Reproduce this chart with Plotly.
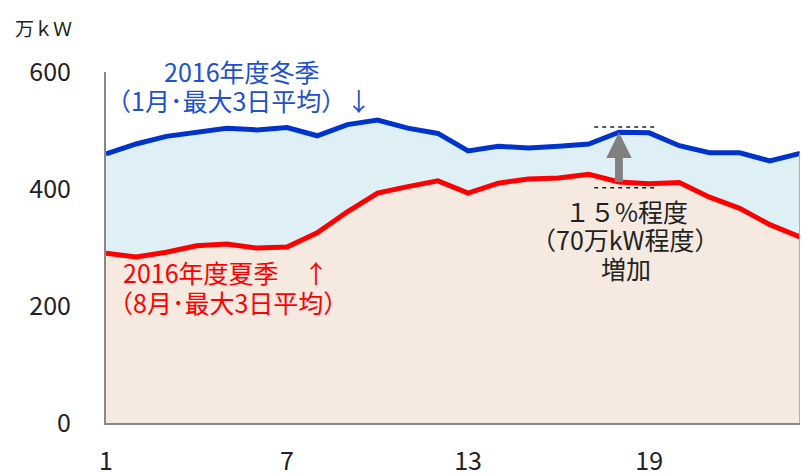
import plotly.graph_objects as go

hours = list(range(1, 25))
winter = [460, 477, 490, 498, 504, 501, 505, 491, 510, 518, 504, 495,
          465, 473, 470, 473, 477, 497, 496, 474, 462, 462, 448, 461]
summer = [290, 284, 292, 303, 306, 299, 301, 325, 361, 393, 404, 414,
          393, 410, 417, 419, 425, 412, 409, 411, 386, 367, 339, 318]
x_ticks = [1, 7, 13, 19]
y_ticks = [0, 200, 400, 600]

FONT = "Noto Sans CJK JP, Noto Sans, sans-serif"
BLUE_LINE = "#0033cc"
BLUE_TEXT = "#2050d0"
RED = "#ff0000"

W, H = 804, 473
ML, MR, MT, MB = 106, 4, 72, 50
PW, PH = W - ML - MR, H - MT - MB


def px(xp, yp):
    """pixel position -> paper coords"""
    return (xp - ML) / PW, (H - MB - yp) / PH


fig = go.Figure()
fig.add_trace(go.Scatter(x=hours, y=winter, mode="lines",
                         line=dict(color=BLUE_LINE, width=5),
                         fill="tozeroy", fillcolor="#dfeff6",
                         hoverinfo="skip", showlegend=False))
fig.add_trace(go.Scatter(x=hours, y=summer, mode="lines",
                         line=dict(color=RED, width=5),
                         fill="tozeroy", fillcolor="#f6eae0",
                         hoverinfo="skip", showlegend=False))

# arrow at hour 18 from summer to winter value
ax = 18
i = hours.index(ax)
top = winter[i]
bot = summer[i]
hw = 0.42   # head half width (hours)
hh = 44     # head height (value units)
sw = 0.13   # shaft half width
arrow_path = (f"M {ax-sw},{bot} L {ax-sw},{top-hh} L {ax-hw},{top-hh} "
              f"L {ax},{top} L {ax+hw},{top-hh} L {ax+sw},{top-hh} L {ax+sw},{bot} Z")
shapes = [
    dict(type="path", path=arrow_path, xref="x", yref="y",
         fillcolor="#808080", line=dict(width=0)),
    dict(type="line", xref="x", yref="y", x0=ax-0.82, x1=ax+1.27, y0=top+9, y1=top+9,
         line=dict(color="#222", width=1.5, dash="4px,4px")),
    dict(type="line", xref="x", yref="y", x0=ax-0.82, x1=ax+1.27, y0=bot-10, y1=bot-10,
         line=dict(color="#222", width=1.5, dash="4px,4px")),
    dict(type="line", xref="x", yref="y", x0=hours[-1], x1=hours[-1], y0=0, y1=winter[-1],
         line=dict(color="#b0b0b0", width=2)),
]

# (text, pixel x centre, pixel y centre, colour, size)
labels = [
    ("万ｋＷ", 43, 27, "#222", 19),
    ("2016年度冬季", 242, 71, BLUE_TEXT, 25),
    ("（1月･最大3日平均）↓", 238, 100, BLUE_TEXT, 25),
    ("2016年度夏季　↑", 226, 272, RED, 25),
    ("（8月･最大3日平均）", 228, 302, RED, 25),
    ("１５%程度", 626, 211, "#222", 25),
    ("（70万kW程度）", 625, 239, "#222", 25),
    ("増加", 626, 268, "#222", 25),
]
ann_objs = []
for t, xp, yp, c, s in labels:
    xx, yy = px(xp, yp)
    ann_objs.append(dict(text=t, x=xx, y=yy, xref="paper", yref="paper",
                         showarrow=False, xanchor="center", yanchor="middle",
                         font=dict(family=FONT, size=s, color=c)))

fig.update_layout(
    width=W, height=H,
    margin=dict(l=ML, r=MR, t=MT, b=MB, autoexpand=False),
    paper_bgcolor="white", plot_bgcolor="white",
    shapes=shapes, annotations=ann_objs,
    font=dict(family=FONT, color="#222"),
    xaxis=dict(range=[1, 24], tickmode="array", tickvals=x_ticks,
               ticktext=[str(t) for t in x_ticks], showgrid=False, zeroline=False,
               showline=True, linecolor="#888", linewidth=2, automargin=False,
               ticks="outside", ticklen=15, tickcolor="rgba(0,0,0,0)",
               tickfont=dict(family=FONT, size=25, color="#222")),
    yaxis=dict(range=[0, 600], tickmode="array", tickvals=y_ticks,
               ticktext=[str(t) for t in y_ticks], showgrid=False, zeroline=False,
               showline=True, linecolor="#888", linewidth=2, automargin=False,
               ticks="outside", ticklen=28, tickcolor="rgba(0,0,0,0)",
               tickfont=dict(family=FONT, size=25, color="#222")),
)

fig.write_html("out.html", config={"displayModeBar": False})

# remove the browser's default page margin so the figure sits at the top-left corner
with open("out.html", "r", encoding="utf-8") as f:
    html = f.read()
html = html.replace("<head>", "<head><style>html,body{margin:0;padding:0;overflow:hidden;}</style>", 1)
with open("out.html", "w", encoding="utf-8") as f:
    f.write(html)
